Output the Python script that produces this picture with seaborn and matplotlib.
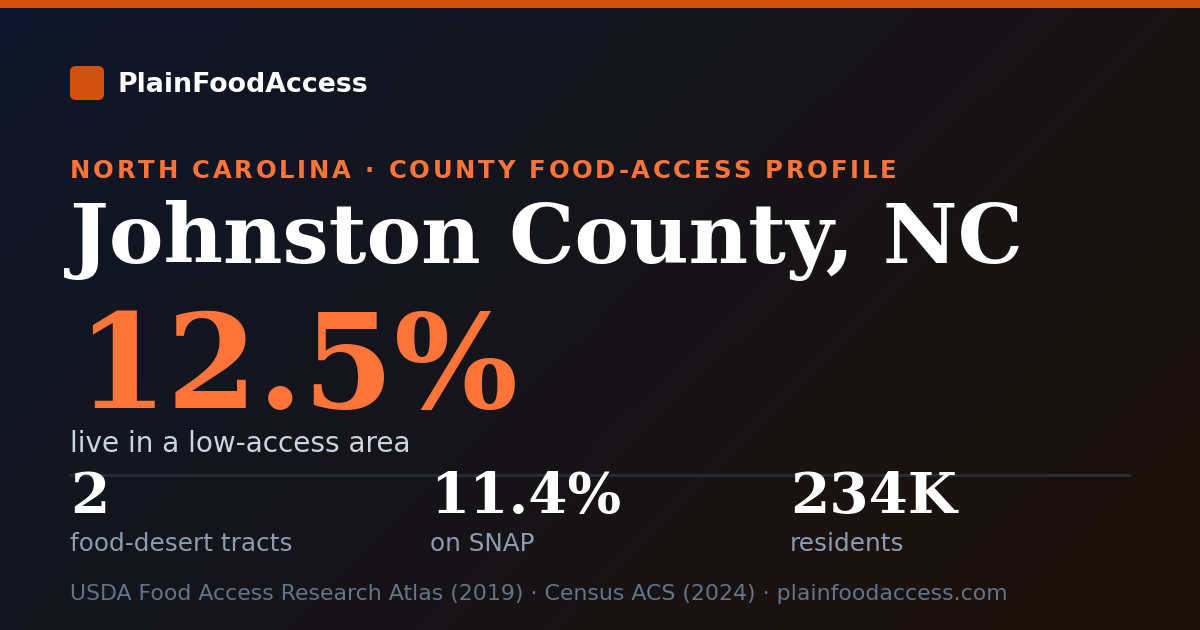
import numpy as np
import matplotlib.pyplot as plt
import seaborn as sns
from matplotlib.patches import FancyBboxPatch, Rectangle
from matplotlib.font_manager import FontProperties, findfont
from matplotlib.ft2font import FT2Font

# card content
brand = "PlainFoodAccess"
kicker = "NORTH CAROLINA · COUNTY FOOD-ACCESS PROFILE"
county = "Johnston County, NC"
headline_value = "12.5%"
headline_label = "live in a low-access area"
stat_values = ["2", "11.4%", "234K"]
stat_labels = ["food-desert tracts", "on SNAP", "residents"]
source_note = "USDA Food Access Research Atlas (2019) · Census ACS (2024) · plainfoodaccess.com"

W, H, DPI = 1200, 630, 100
ORANGE = "#ff7438"
BAR = "#d2510f"

sns.set_theme(style="dark")
plt.rcParams['font.family'] = ['DejaVu Sans']

fig = plt.figure(figsize=(W / DPI, H / DPI), dpi=DPI)
ax = fig.add_axes([0, 0, 1, 1])
ax.set_xlim(0, W)
ax.set_ylim(H, 0)
ax.axis('off')

# diagonal background gradient (navy top-left -> dark brown bottom-right)
c0 = np.array([15, 23, 42]) / 255
c1 = np.array([29, 17, 8]) / 255
xx, yy = np.meshgrid(np.linspace(0, 1, 300), np.linspace(0, 1, 160))
t = np.clip((xx * W + yy * H) / (W + H), 0, 1)[..., None]
ax.imshow(c0 * (1 - t) + c1 * t, extent=[0, W, H, 0], aspect='auto', zorder=0)

# top accent bar
ax.add_patch(Rectangle((0, 0), W, 8, color=BAR, lw=0, zorder=1))

# logo square + brand
ax.add_patch(FancyBboxPatch((72, 68), 30, 30, boxstyle="round,pad=2,rounding_size=6",
                            color=BAR, lw=0, zorder=2))
ax.text(118, 92, brand, fontsize=19.3, fontweight='bold', color='white', va='baseline', zorder=3)


# kicker with letter spacing
def spaced_text(x0, y, s, size, target_width, **kw):
    font = FT2Font(findfont(FontProperties(family='DejaVu Sans', weight='bold')))
    font.set_size(size, DPI)
    adv = []
    for ch in s:
        g = font.load_char(ord(ch))
        adv.append(g.linearHoriAdvance / 65536)
    spacing = (target_width - sum(adv[:-1]) - adv[-1] * 0.9) / (len(s) - 1)
    x = x0
    for ch, a in zip(s, adv):
        ax.text(x, y, ch, fontsize=size, va='baseline', **kw)
        x += a + spacing


spaced_text(70, 178, kicker, 17.5, 825, fontweight='bold', color=ORANGE, zorder=3)

# county title
ax.text(70, 263, county, fontsize=59, fontweight='bold', family='DejaVu Serif',
        color='white', va='baseline', zorder=3)

# headline number
ax.text(76, 408, headline_value, fontsize=94, fontweight='bold', family='DejaVu Serif',
        color=ORANGE, va='baseline', zorder=3)
ax.text(70, 452, headline_label, fontsize=20.1, color='#cbd5e1', va='baseline', zorder=3)

# divider
sns.lineplot(x=[70, 1130], y=[475, 475], ax=ax, color='#272c37', lw=2, zorder=2)

# stats row
stat_x = [70, 430, 790]
for x, v, lab in zip(stat_x, stat_values, stat_labels):
    ax.text(x, 513, v, fontsize=40.6, fontweight='bold', family='DejaVu Serif',
            color='white', va='baseline', zorder=3)
    ax.text(x, 551, lab, fontsize=17.8, color='#8e9bb0', va='baseline', zorder=3)

# footer
ax.text(70, 600, source_note, fontsize=15.85, color='#64748b', va='baseline', zorder=3)

fig.savefig('out.png', dpi=DPI)
